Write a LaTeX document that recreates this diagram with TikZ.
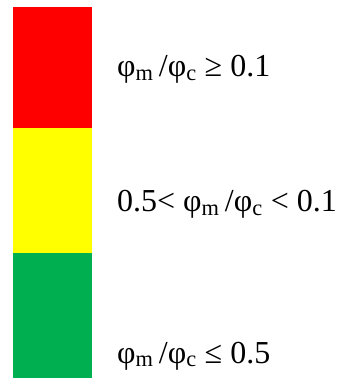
\documentclass[tikz,border=0pt]{standalone}
\usepackage{fontspec}
\setmainfont{Liberation Serif}
\usetikzlibrary{positioning}

\definecolor{lvlred}{RGB}{255,0,0}
\definecolor{lvlyellow}{RGB}{255,255,0}
\definecolor{lvlgreen}{RGB}{0,176,80}

\newcommand{\ratio}{φ\textsubscript{m}\,/φ\textsubscript{c}}

\tikzset{
  levelbox/.style={rectangle, inner sep=0pt, outer sep=0pt,
    minimum width=79pt, anchor=north west},
  levellabel/.style={anchor=base west, inner sep=0pt,
    font=\fontsize{32}{36}\selectfont}
}

\begin{document}
\begin{tikzpicture}[x=1pt,y=1pt]
  \useasboundingbox (0,0) rectangle (343,378);

  \node[levelbox, fill=lvlred, minimum height=121pt] (red) at (13,371) {};
  \node[levelbox, fill=lvlyellow, minimum height=125pt] (yellow) at (red.south west) {};
  \node[levelbox, fill=lvlgreen, minimum height=125pt] (green) at (yellow.south west) {};

  \node[levellabel] (l1) at (117,301) {\ratio\ ≥ 0.1};
  \node[levellabel] (l2) at (117,166) {0.5< \ratio\ < 0.1};
  \node[levellabel] (l3) at (117,15) {\ratio\ ≤ 0.5};

\end{tikzpicture}
\end{document}
